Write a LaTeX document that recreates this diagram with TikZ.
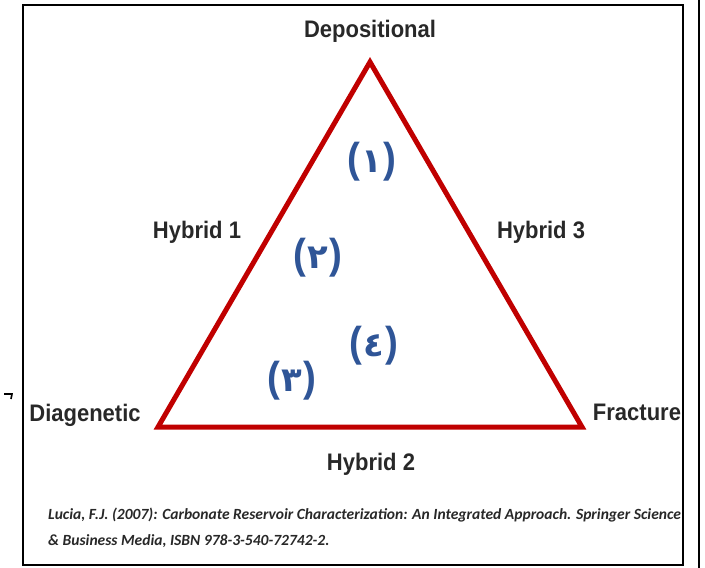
\documentclass[tikz,border=0pt]{standalone}
\usepackage{fontspec}
\setmainfont{Liberation Sans}
\newfontfamily\labelfont[FakeStretch=0.92]{Liberation Sans}
\newfontfamily\arabicfont{DejaVu Sans}
\newfontfamily\citefont{Carlito}

\definecolor{trired}{RGB}{192,0,0}
\definecolor{numblue}{RGB}{47,85,151}
\definecolor{labelgray}{RGB}{40,40,40}

\tikzset{
  corner/.style={anchor=base, inner sep=0pt, text=labelgray,
    font=\labelfont\bfseries\fontsize{24}{28}\selectfont},
  region/.style={inner sep=0pt, text=numblue,
    font=\labelfont\bfseries\fontsize{42}{46}\selectfont},
  tri/.style={draw=trired, line width=5bp, line join=miter},
}
% digit between parentheses
\newcommand\regnum[1]{(\kern1bp{\arabicfont\fontsize{34}{40}\selectfont#1}\kern1bp)}

\begin{document}
\begin{tikzpicture}[x=1bp, y=-1bp]
\useasboundingbox (0,0) rectangle (705,568);

% Frame
\draw[line width=2.2bp] (23,5) rectangle (683,565);
\draw[line width=2bp] (699,0) -- (699,568);
\draw[line width=1.6bp] (4,394) -- (12,394) -- (11,399);

% Triangle corners
\coordinate (top) at (370,62);
\coordinate (left) at (158,427);
\coordinate (right) at (582,427);
\draw[tri] (top) -- (right) -- (left) -- cycle;

% End members and hybrids
\node[corner] (depo) at (370,38) {Depositional};
\node[corner] (hyb1) at (197,238) {Hybrid 1};
\node[corner] (hyb3) at (541,238) {Hybrid 3};
\node[corner] (diag) at (85,421) {Diagenetic};
\node[corner] (frac) at (637,420) {Fracture};
\node[corner] (hyb2) at (371,470) {Hybrid 2};

% Regions
\node[region] (n1) at (372,162) {\regnum{١}};
\node[region] (n2) at (318,258) {\regnum{٢}};
\node[region] (n4) at (374,346) {\regnum{٤}};
\node[region] (n3) at (292,381) {\regnum{٣}};

% Reference
\node[anchor=base west, inner sep=0pt, align=left, text=labelgray,
  font=\citefont\bfseries\itshape\fontsize{15.6}{26}\selectfont] (cite) at (48,545)
  {Lucia, F.J. (2007): Carbonate Reservoir Characterization: An Integrated Approach. Springer Science\\
   \& Business Media, ISBN 978-3-540-72742-2.};
\end{tikzpicture}
\end{document}
